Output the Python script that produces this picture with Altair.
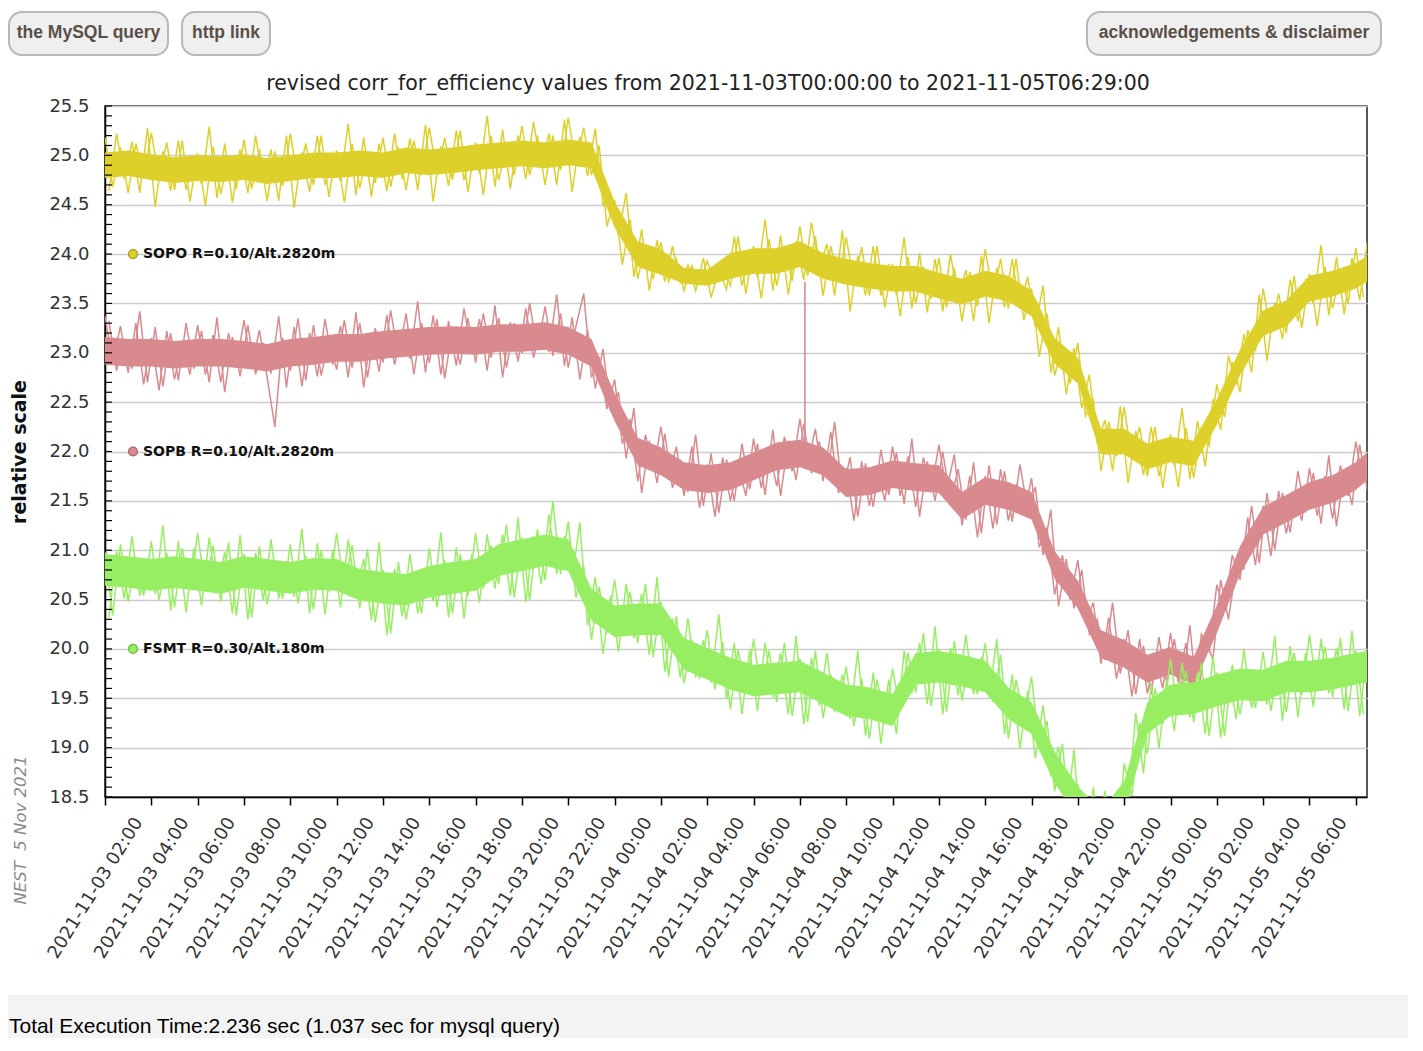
import altair as alt
import pandas as pd

# ---------------- data ----------------
series_names = ["SOPO", "SOPB", "FSMT"]
series_labels = ["SOPO R=0.10/Alt.2820m", "SOPB R=0.10/Alt.2820m", "FSMT R=0.30/Alt.180m"]
series_colors = ["#DDD02A", "#D98A8E", "#98EE62"]
series_edges = ["#A69A1C", "#A8666A", "#6AB842"]
label_levels = [24.0, 22.0, 20.0]

# samples at hh:00, hh:20, hh:40 (one row = 4 hours)
sopo_a = [
    25.18, 24.68, 25.08, 24.62, 25.12, 24.77, 25.23, 24.76, 25.13, 24.65, 25.15, 24.53,
    25.02, 24.49, 25.09, 24.61, 24.98, 24.66, 25.16, 24.66, 25.06, 24.54, 25.04, 24.69,
    25.22, 24.75, 25.12, 24.7, 25.2, 24.58, 25.05, 24.52, 25.12, 24.67, 25.04, 24.72,
    25.18, 24.68, 25.08, 24.65, 25.15, 24.8, 25.28, 24.81, 25.18, 24.75, 25.25, 24.63,
    25.13, 24.6, 25.2, 24.75, 25.12, 24.8, 25.3, 24.8, 25.2, 24.7, 25.2, 24.85,
    25.38, 24.91, 25.28, 24.8, 25.1, 24.28, 24.55, 23.89, 24.35, 23.75, 24.09, 23.75,
    24.12, 23.72, 23.95, 23.63, 23.88, 23.7, 23.93, 23.7, 23.88, 23.68, 24.18, 23.6,
    24.08, 23.55, 24.15, 23.68, 24.05, 23.73, 24.28, 23.78, 24.18, 23.58, 24.08, 23.73,
    24.17, 23.7, 24.07, 23.58, 24.08, 23.46, 23.9, 23.37, 23.97, 23.5, 23.87, 23.55,
    23.96, 23.46, 23.86, 23.32, 23.82, 23.47, 24.05, 23.58, 23.95, 23.45, 23.95, 23.33,
    23.65, 22.96, 23.4, 22.77, 23.07, 22.69, 23.1, 22.36, 22.52, 21.8, 22.3, 21.95,
    22.45, 21.93, 22.25, 21.75, 22.25, 21.63, 22.17, 21.64, 22.24, 21.73, 22.24, 22.06,
    22.68, 22.35, 22.91, 22.6, 23.23, 23.02, 23.65, 23.2, 23.6, 23.2, 23.78, 23.25,
    23.8, 23.27, 23.87, 23.45, 23.82, 23.5, 24.06, 23.56,
]
sopb_a = [
    23.37, 22.9, 23.27, 22.8, 23.3, 22.68, 23.15, 22.62, 23.22, 22.73, 23.1, 22.78,
    23.28, 22.78, 23.18, 22.7, 23.2, 22.85, 23.33, 22.86, 23.23, 22.75, 22.25, 23.15,
    22.82, 23.35, 22.72, 23.28, 22.77, 23.14, 22.83, 23.33, 22.85, 23.3, 22.75, 23.25,
    22.9, 23.43, 22.96, 23.4, 22.78, 23.3, 22.9, 23.34, 22.74, 23.25, 22.88, 23.35,
    22.9, 23.4, 22.95, 23.35, 22.85, 23.3, 23.0, 23.5, 23.03, 23.47, 22.97, 23.4,
    22.85, 23.27, 23.6, 22.75, 22.94, 22.43, 22.73, 22.08, 22.33, 21.7, 22.17, 21.8,
    22.25, 21.73, 22.05, 21.55, 22.05, 21.43, 21.87, 21.34, 21.94, 21.5, 21.87, 21.55,
    22.13, 21.63, 22.03, 21.65, 22.15, 21.8, 22.33, 21.86, 22.23, 21.7, 22.2, 21.58,
    21.83, 21.3, 21.9, 21.45, 21.82, 21.5, 22.05, 21.55, 21.95, 21.44, 21.94, 21.59,
    22.07, 21.6, 21.97, 21.25, 21.75, 21.13, 21.75, 21.22, 21.82, 21.3, 21.67, 21.35,
    21.73, 21.03, 21.23, 20.55, 20.95, 20.5, 20.9, 20.26, 20.47, 19.85, 20.32, 19.7,
    20.1, 19.52, 20.1, 19.55, 19.92, 19.6, 20.16, 19.66, 20.06, 19.48, 20.15, 19.98,
    20.65, 20.38, 20.95, 20.7, 21.33, 20.85, 21.45, 20.94, 21.6, 21.17, 21.58, 21.3,
    21.83, 21.35, 21.75, 21.32, 21.86, 21.55, 22.1, 21.68,
]
fsmt_a = [
    20.98, 20.34, 21.06, 20.48, 20.92, 20.54, 21.09, 20.49, 20.97, 20.42, 21.02, 20.6,
    21.17, 20.61, 21.05, 20.48, 21.08, 20.34, 20.96, 20.32, 21.04, 20.45, 20.89, 20.51,
    21.06, 20.46, 20.94, 20.4, 21.0, 20.58, 21.17, 20.61, 21.05, 20.41, 21.01, 20.27,
    20.8, 20.16, 20.88, 20.3, 20.74, 20.36, 21.02, 20.42, 20.9, 20.36, 20.96, 20.54,
    21.17, 20.61, 21.05, 20.66, 21.26, 20.52, 21.13, 20.49, 21.21, 20.7, 21.5, 20.76,
    21.29, 20.52, 20.84, 20.09, 20.63, 20.16, 20.7, 20.14, 20.58, 20.06, 20.66, 19.92,
    20.48, 19.72, 20.33, 19.65, 20.09, 19.7, 20.19, 19.59, 20.07, 19.39, 19.99, 19.57,
    20.1, 19.54, 19.98, 19.46, 20.06, 19.32, 19.9, 19.26, 19.98, 19.3, 19.74, 19.36,
    19.82, 19.22, 19.7, 19.09, 19.69, 19.27, 19.8, 19.38, 19.96, 19.56, 20.16, 19.42,
    20.0, 19.36, 20.08, 19.48, 19.92, 19.54, 20.06, 19.46, 19.94, 19.09, 19.69, 19.27,
    19.72, 18.99, 19.27, 18.56, 19.04, 18.19, 18.63, 17.9, 18.6, 17.9, 18.34, 17.96,
    18.84, 18.51, 19.25, 18.94, 19.6, 19.24, 19.9, 19.34, 19.78, 19.26, 19.86, 19.12,
    19.76, 19.12, 19.84, 19.34, 19.78, 19.4, 19.97, 19.37, 19.85, 19.36, 19.96, 19.54,
    20.14, 19.58, 20.02, 19.51, 20.11, 19.37, 19.98, 19.34,
]

# samples at hh:10, hh:30, hh:50 (one row = 4 hours)
sopo_b = [
    24.64, 25.22, 24.76, 25.14, 24.62, 25.28, 24.48, 25.04, 24.64, 25.15, 24.65, 24.97,
    24.71, 25.29, 24.57, 25.12, 24.52, 25.06, 24.62, 25.2, 24.74, 25.06, 24.54, 25.2,
    24.47, 25.03, 24.63, 25.2, 24.7, 25.02, 24.74, 25.32, 24.6, 25.18, 24.58, 25.12,
    24.64, 25.22, 24.76, 25.17, 24.65, 25.31, 24.53, 25.09, 24.69, 25.25, 24.75, 25.07,
    24.82, 25.4, 24.68, 25.26, 24.66, 25.2, 24.76, 25.34, 24.88, 25.22, 24.7, 25.36,
    24.63, 25.19, 24.79, 25.27, 24.5, 24.62, 24.19, 24.62, 23.77, 24.25, 23.63, 24.14,
    23.72, 24.08, 23.71, 23.89, 23.63, 23.96, 23.56, 23.84, 23.64, 24.18, 23.68, 24.0,
    23.77, 24.35, 23.63, 24.19, 23.59, 24.13, 23.74, 24.32, 23.86, 24.1, 23.58, 24.24,
    23.42, 23.98, 23.58, 24.08, 23.58, 23.9, 23.59, 24.17, 23.45, 24.01, 23.41, 23.95,
    23.42, 24.0, 23.54, 23.84, 23.32, 23.98, 23.3, 23.86, 23.46, 23.95, 23.45, 23.77,
    23.26, 23.68, 22.8, 23.26, 22.58, 23.05, 22.44, 22.78, 22.08, 22.32, 21.8, 22.46,
    21.68, 22.21, 21.76, 22.25, 21.75, 22.07, 21.86, 22.44, 21.72, 22.31, 21.85, 22.53,
    22.22, 22.97, 22.68, 23.19, 22.8, 23.59, 22.92, 23.51, 23.14, 23.74, 23.32, 23.73,
    23.5, 24.09, 23.38, 23.97, 23.39, 23.96, 23.53, 24.13,
]
sopb_b = [
    23.32, 22.82, 23.14, 22.84, 23.42, 22.7, 23.26, 22.66, 23.2, 22.72, 23.3, 22.84,
    23.22, 22.7, 23.36, 22.6, 23.16, 22.76, 23.28, 22.78, 23.1, 22.79, 23.37, 22.65,
    23.26, 22.66, 23.2, 22.76, 23.34, 22.88, 23.27, 22.75, 23.41, 22.65, 23.21, 22.81,
    23.38, 22.88, 23.2, 22.94, 23.52, 22.8, 23.38, 22.78, 23.32, 22.87, 23.45, 22.99,
    23.34, 22.82, 23.48, 22.75, 23.31, 22.91, 23.45, 22.95, 23.27, 23.01, 23.59, 22.87,
    23.36, 22.73, 23.23, 22.64, 23.04, 22.4, 22.6, 21.93, 22.44, 21.58, 22.11, 21.68,
    22.18, 21.63, 21.9, 21.59, 22.17, 21.45, 21.98, 21.38, 21.92, 21.5, 22.08, 21.62,
    22.08, 21.56, 22.22, 21.55, 22.11, 21.71, 22.28, 21.78, 22.1, 21.72, 22.3, 21.58,
    21.94, 21.34, 21.88, 21.44, 22.02, 21.56, 21.99, 21.47, 22.13, 21.34, 21.9, 21.5,
    22.0, 21.5, 21.82, 21.31, 21.89, 21.17, 21.86, 21.26, 21.8, 21.29, 21.87, 21.41,
    21.64, 20.95, 21.41, 20.43, 20.91, 20.41, 20.8, 20.15, 20.3, 19.89, 20.47, 19.75,
    20.19, 19.54, 20.03, 19.54, 20.12, 19.66, 20.1, 19.58, 20.24, 19.45, 20.11, 19.89,
    20.7, 20.3, 20.82, 20.81, 21.45, 20.87, 21.58, 21.0, 21.58, 21.18, 21.8, 21.38,
    21.78, 21.27, 21.96, 21.24, 21.82, 21.46, 22.07, 21.6,
]
fsmt_b = [
    20.32, 20.99, 20.51, 21.14, 20.54, 20.92, 20.56, 21.25, 20.39, 21.09, 20.37, 21.02,
    20.44, 21.13, 20.58, 20.98, 20.36, 21.15, 20.3, 20.97, 20.49, 21.11, 20.51, 20.89,
    20.53, 21.22, 20.36, 21.07, 20.35, 21.0, 20.42, 21.11, 20.56, 20.91, 20.29, 21.08,
    20.14, 20.81, 20.33, 20.96, 20.36, 20.74, 20.49, 21.18, 20.32, 21.03, 20.31, 20.96,
    20.47, 21.16, 20.61, 21.16, 20.54, 21.33, 20.47, 21.14, 20.66, 21.36, 20.76, 21.14,
    20.71, 21.28, 20.24, 20.73, 19.95, 20.54, 19.97, 20.66, 20.11, 20.56, 19.94, 20.73,
    19.77, 20.31, 19.71, 20.31, 19.71, 20.09, 19.66, 20.35, 19.49, 20.06, 19.34, 19.99,
    19.37, 20.06, 19.51, 19.96, 19.34, 20.13, 19.24, 19.91, 19.43, 19.96, 19.36, 19.74,
    19.29, 19.98, 19.12, 19.76, 19.04, 19.69, 19.14, 19.98, 19.55, 20.06, 19.44, 20.23,
    19.34, 20.01, 19.53, 20.14, 19.54, 19.92, 19.51, 20.1, 19.14, 19.74, 18.99, 19.57,
    18.89, 19.43, 18.71, 19.01, 18.29, 18.98, 17.92, 18.49, 17.96, 18.56, 18.01, 18.54,
    18.41, 19.35, 18.74, 19.66, 18.99, 19.69, 19.17, 19.86, 19.31, 19.76, 19.14, 19.93,
    19.1, 19.77, 19.29, 20.0, 19.4, 19.78, 19.44, 20.13, 19.27, 20.03, 19.31, 19.96,
    19.41, 20.1, 19.55, 20.01, 19.39, 20.18, 19.32, 19.99,
]

# hourly dense core of each trace (00:00 ... 54:00, then the 06:29 end)
sopo_low = [
    24.77, 24.79, 24.75, 24.72, 24.74, 24.73, 24.75, 24.71, 24.74, 24.77,
    24.77, 24.79, 24.77, 24.82, 24.8, 24.82, 24.85, 24.87, 24.89, 24.87,
    24.9, 24.87, 24.27, 23.87, 23.79, 23.7, 23.68, 23.75, 23.8, 23.8,
    23.87, 23.75, 23.69, 23.65, 23.62, 23.62, 23.55, 23.49, 23.57, 23.52,
    23.37, 22.89, 22.69, 21.97, 21.97, 21.82, 21.89, 21.85, 22.27, 22.77,
    23.17, 23.27, 23.52, 23.57, 23.65, 23.72,
]
sopo_high = [
    25.03, 25.05, 25.01, 24.98, 25.0, 24.99, 25.01, 24.97, 25.0, 25.03,
    25.03, 25.05, 25.03, 25.08, 25.06, 25.08, 25.11, 25.13, 25.15, 25.13,
    25.16, 25.13, 24.53, 24.13, 24.05, 23.86, 23.84, 24.01, 24.06, 24.06,
    24.13, 24.01, 23.95, 23.91, 23.88, 23.88, 23.81, 23.75, 23.83, 23.78,
    23.63, 23.15, 22.95, 22.23, 22.23, 22.08, 22.15, 22.11, 22.53, 23.03,
    23.43, 23.53, 23.78, 23.83, 23.91, 23.98,
]
sopb_low = [
    22.88, 22.86, 22.86, 22.84, 22.86, 22.86, 22.84, 22.81, 22.86, 22.88,
    22.91, 22.91, 22.94, 22.96, 22.98, 22.99, 22.98, 23.01, 23.01, 23.03,
    22.98, 22.86, 22.31, 21.86, 21.76, 21.61, 21.58, 21.61, 21.71, 21.81,
    21.84, 21.76, 21.54, 21.56, 21.63, 21.6, 21.58, 21.31, 21.46, 21.41,
    21.31, 20.71, 20.41, 19.91, 19.81, 19.66, 19.74, 19.64, 20.16, 20.76,
    21.16, 21.28, 21.41, 21.48, 21.61, 21.71,
]
sopb_high = [
    23.16, 23.14, 23.14, 23.12, 23.14, 23.14, 23.12, 23.09, 23.14, 23.16,
    23.19, 23.19, 23.22, 23.24, 23.26, 23.27, 23.26, 23.29, 23.29, 23.31,
    23.26, 23.14, 22.59, 22.14, 22.04, 21.89, 21.86, 21.89, 21.99, 22.09,
    22.12, 22.04, 21.82, 21.84, 21.91, 21.88, 21.86, 21.59, 21.74, 21.69,
    21.59, 20.99, 20.69, 20.19, 20.09, 19.94, 20.02, 19.92, 20.44, 21.04,
    21.44, 21.56, 21.69, 21.76, 21.89, 21.99,
]
fsmt_low = [
    20.64, 20.62, 20.59, 20.62, 20.59, 20.56, 20.62, 20.59, 20.56, 20.6,
    20.59, 20.49, 20.46, 20.44, 20.52, 20.56, 20.59, 20.74, 20.79, 20.84,
    20.79, 20.29, 20.12, 20.14, 20.14, 19.79, 19.69, 19.59, 19.52, 19.54,
    19.56, 19.44, 19.32, 19.29, 19.22, 19.64, 19.66, 19.62, 19.56, 19.29,
    19.14, 18.64, 18.29, 18.04, 18.34, 19.14, 19.32, 19.34, 19.42, 19.48,
    19.47, 19.56, 19.56, 19.59, 19.64, 19.66,
]
fsmt_high = [
    20.96, 20.94, 20.91, 20.94, 20.91, 20.88, 20.94, 20.91, 20.88, 20.92,
    20.91, 20.81, 20.78, 20.76, 20.84, 20.88, 20.91, 21.06, 21.11, 21.16,
    21.11, 20.61, 20.44, 20.46, 20.46, 20.11, 20.01, 19.91, 19.84, 19.86,
    19.88, 19.76, 19.64, 19.61, 19.54, 19.96, 19.98, 19.94, 19.88, 19.61,
    19.46, 18.96, 18.61, 18.36, 18.66, 19.46, 19.64, 19.66, 19.74, 19.8,
    19.79, 19.88, 19.88, 19.91, 19.96, 19.98,
]

# single outlier spike in SOPB
spike_time = ["2021-11-04 06:13"]
spike_low = [21.9]
spike_high = [23.72]

y_tick_values = [18.5, 19.0, 19.5, 20.0, 20.5, 21.0, 21.5, 22.0, 22.5, 23.0, 23.5, 24.0, 24.5, 25.0, 25.5]
title_text = "revised corr_for_efficiency values from 2021-11-03T00:00:00 to 2021-11-05T06:29:00"

# ---------------- tables ----------------
times_a = pd.date_range("2021-11-03 00:00", periods=164, freq="20min")
times_b = pd.date_range("2021-11-03 00:10", periods=164, freq="20min")
band_times = list(pd.date_range("2021-11-03 00:00", periods=55, freq="h")) + [pd.Timestamp("2021-11-05 06:29")]

lines_a = [sopo_a, sopb_a, fsmt_a]
lines_b = [sopo_b, sopb_b, fsmt_b]
lows = [sopo_low, sopb_low, fsmt_low]
highs = [sopo_high, sopb_high, fsmt_high]

FONT = "DejaVu Sans"
x_scale = alt.Scale(domain=[alt.DateTime(year=2021, month=11, date=3, hours=0, minutes=0),
                            alt.DateTime(year=2021, month=11, date=5, hours=6, minutes=29)])
y_scale = alt.Scale(domain=[18.5, 25.5], nice=False, zero=False)

x_ticks = []
for i in range(28):
    ts = pd.Timestamp("2021-11-03 00:00") + pd.Timedelta(hours=2 * i)
    x_ticks.append(alt.DateTime(year=ts.year, month=ts.month, date=ts.day, hours=ts.hour, minutes=0))

x_axis = alt.Axis(values=x_ticks, format="%Y-%m-%d %H:%M", labelAngle=302, labelFontSize=18,
                  labelFont=FONT, labelColor="#333333", tickSize=8, tickColor="#000000", tickWidth=1.5,
                  domainColor="#000000", domainWidth=1.5, grid=False, title=None,
                  labelPadding=14, labelOffset=-13,
                  labelExpr="datum.index == 0 ? '' : datum.label",
                  labelOverlap=False, labelBound=False, labelFlush=False)
y_axis = alt.Axis(values=y_tick_values, format=".1f", labelFontSize=18, labelFont=FONT,
                  labelColor="#333333", tickSize=0, labelPadding=16, domainColor="#000000",
                  domainWidth=1.5, grid=True, gridColor="#cccccc", gridWidth=1.5,
                  title="relative scale", titleFontSize=19, titleFont=FONT, titleFontWeight="bold",
                  titleColor="#111111", titlePadding=19)


def X(field):
    return alt.X(field, scale=x_scale, axis=x_axis)


def Y(field):
    return alt.Y(field, scale=y_scale, axis=y_axis)


layers = []
for i, name in enumerate(series_names):
    band_df = pd.DataFrame({"t": band_times, "low": lows[i], "high": highs[i]})
    la = pd.DataFrame({"t": times_a, "v": lines_a[i]})
    lb = pd.DataFrame({"t": times_b, "v": lines_b[i]})
    layers.append(alt.Chart(band_df).mark_area(clip=True, color=series_colors[i], opacity=1).encode(
        x=X("t:T"), y=Y("low:Q"), y2="high:Q"))
    for ldf in (la, lb):
        layers.append(alt.Chart(ldf).mark_line(clip=True, color=series_colors[i], strokeWidth=1.5).encode(
            x=X("t:T"), y=Y("v:Q")))
    if name == "SOPB":
        sp = pd.DataFrame({"t": pd.to_datetime(spike_time), "lo": spike_low, "hi": spike_high})
        layers.append(alt.Chart(sp).mark_rule(color=series_colors[i], strokeWidth=1.6, clip=True).encode(
            x=X("t:T"), y=Y("lo:Q"), y2="hi:Q"))

# inner minor ticks on the y axis (every 0.1)
minor_df = pd.DataFrame({"y": [round(18.5 + 0.1 * k, 1) for k in range(71)]})
minor = alt.Chart(minor_df).mark_rule(color="#000000", strokeWidth=1.2).encode(
    y=Y("y:Q"), x=alt.value(0), x2=alt.value(7))

# in-plot series labels
leg_df = pd.DataFrame({"label": series_labels, "level": label_levels,
                       "fill": series_colors, "edge": series_edges})
leg_dots = alt.Chart(leg_df).mark_circle(size=80, opacity=1, strokeWidth=1.2).encode(
    x=alt.value(28), y=Y("level:Q"),
    color=alt.Color("fill:N", scale=None), stroke=alt.Stroke("edge:N", scale=None))
leg_text = alt.Chart(leg_df).mark_text(align="left", baseline="middle", font=FONT, fontSize=14,
                                       fontWeight="bold", color="#111111").encode(
    x=alt.value(38), y=Y("level:Q"), text="label:N")

one = pd.DataFrame({"k": [0]})


def button(x1, x2, label):
    r = alt.Chart(one).mark_rect(cornerRadius=13, fill="#efefef", stroke="#b8b8b8", strokeWidth=2).encode(
        x=alt.value(x1), x2=alt.value(x2), y=alt.value(-94), y2=alt.value(-51))
    t = alt.Chart(one).mark_text(text=label, font="Liberation Sans", fontSize=17.5, fontWeight="bold",
                                 color="#5a5048", align="center", baseline="middle").encode(
        x=alt.value((x1 + x2) / 2), y=alt.value(-73))
    return [r, t]


deco = []
deco += button(-96, 63, "the MySQL query")
deco += button(77, 165, "http link")
deco += button(982, 1276, "acknowledgements & disclaimer")
deco.append(alt.Chart(one).mark_text(text=title_text, font=FONT, fontSize=20.5, color="#222222",
                                     align="center", baseline="middle").encode(
    x=alt.value(603), y=alt.value(-22)))
deco.append(alt.Chart(one).mark_text(text="NEST\u00a0 5 Nov 2021", font=FONT, fontSize=16.5, fontStyle="italic",
                                     color="#8a8a8a", align="center", baseline="middle", angle=270).encode(
    x=alt.value(-84), y=alt.value(724)))
deco.append(alt.Chart(one).mark_rect(fill="#f3f3f3").encode(
    x=alt.value(-97), x2=alt.value(1303), y=alt.value(889), y2=alt.value(935)))
deco.append(alt.Chart(one).mark_text(text="Total Execution Time:2.236 sec (1.037 sec for mysql query)",
                                     font="Liberation Sans", fontSize=21, color="#000000",
                                     align="left", baseline="middle").encode(
    x=alt.value(-96), y=alt.value(921)))

chart = alt.layer(*layers, minor, leg_dots, leg_text, *deco).properties(
    width=1262, height=691,
    autosize=alt.AutoSizeParams(type="none"),
    padding={"left": 97, "top": 98, "right": 41, "bottom": 241},
    background="white",
).configure_view(stroke="#222222", strokeWidth=1.5)

chart.save("out.html", embed_options={"renderer": "svg", "actions": False})
